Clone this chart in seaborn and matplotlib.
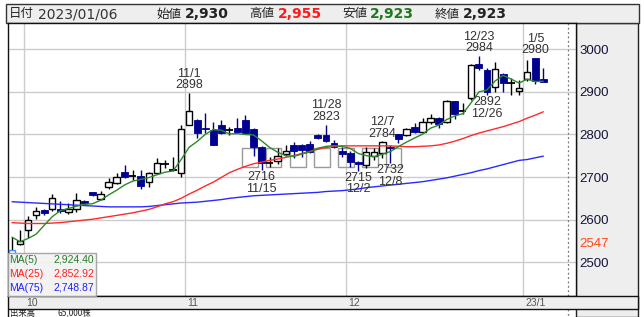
import numpy as np
import pandas as pd
import matplotlib
matplotlib.use("Agg")
import matplotlib.pyplot as plt
import seaborn as sns
from matplotlib.patches import Rectangle
from matplotlib.lines import Line2D

# ---------------- data ----------------
dates = pd.bdate_range("2022-09-29", "2023-01-06", freq="C",
                       holidays=["2022-10-10", "2022-11-03", "2022-11-23",
                                 "2023-01-02", "2023-01-03"])

opens = [2475, 2543, 2575, 2610, 2623, 2625, 2625, 2618, 2624, 2644,
         2664, 2648, 2676, 2685, 2712, 2702, 2702, 2688, 2709, 2731,
         2717, 2709, 2822, 2834, 2814, 2810, 2822, 2811, 2814, 2834,
         2812, 2771, 2734, 2738, 2754, 2775, 2775, 2777, 2799, 2799,
         2780, 2762, 2757, 2736, 2728, 2749, 2756, 2771, 2800, 2799,
         2818, 2806, 2828, 2838, 2828, 2878, 2854, 2885, 2964, 2951,
         2910, 2942, 2920, 2901, 2929, 2980, 2930]
highs = [2559, 2576, 2608, 2629, 2625, 2660, 2644, 2638, 2662, 2646,
         2665, 2668, 2697, 2709, 2728, 2716, 2716, 2712, 2744, 2740,
         2748, 2822, 2898, 2836, 2851, 2830, 2834, 2818, 2838, 2845,
         2814, 2773, 2748, 2767, 2775, 2783, 2777, 2785, 2800, 2823,
         2787, 2771, 2760, 2738, 2770, 2769, 2784, 2775, 2802, 2814,
         2826, 2838, 2847, 2840, 2880, 2879, 2873, 2965, 2984, 2955,
         2969, 2945, 2931, 2928, 2974, 2980, 2955]
lows = [2460, 2540, 2556, 2601, 2612, 2621, 2615, 2613, 2619, 2636,
        2656, 2646, 2673, 2684, 2697, 2693, 2672, 2677, 2706, 2720,
        2714, 2701, 2821, 2791, 2803, 2774, 2800, 2799, 2805, 2800,
        2749, 2716, 2724, 2730, 2750, 2744, 2748, 2756, 2788, 2782,
        2768, 2748, 2724, 2715, 2722, 2740, 2745, 2732, 2779, 2797,
        2803, 2804, 2825, 2814, 2826, 2836, 2847, 2880, 2950, 2892,
        2900, 2900, 2893, 2893, 2926, 2917, 2923]
closes = [2529, 2550, 2599, 2620, 2616, 2650, 2620, 2625, 2646, 2638,
          2658, 2660, 2688, 2701, 2701, 2702, 2680, 2709, 2734, 2731,
          2717, 2812, 2854, 2803, 2813, 2775, 2803, 2811, 2806, 2803,
          2770, 2734, 2734, 2749, 2762, 2762, 2763, 2759, 2791, 2784,
          2771, 2754, 2736, 2731, 2759, 2758, 2783, 2767, 2789, 2812,
          2806, 2828, 2838, 2824, 2878, 2848, 2854, 2963, 2955, 2900,
          2953, 2920, 2920, 2908, 2947, 2924, 2923]

ma5 = [2559, 2548, 2556, 2566, 2587, 2607.0, 2621.0, 2626.2, 2631.4, 2635.8,
       2637.4, 2645.4, 2658.0, 2669.0, 2681.6, 2690.4, 2694.4, 2698.6, 2705.2, 2711.2,
       2714.2, 2740.6, 2769.6, 2783.4, 2799.8, 2811.4, 2809.6, 2801.0, 2801.6, 2799.6,
       2798.6, 2784.8, 2769.4, 2758.0, 2749.8, 2748.2, 2754.0, 2759.0, 2767.4, 2771.8,
       2773.6, 2771.8, 2767.2, 2755.2, 2750.2, 2747.6, 2753.4, 2759.6, 2771.2, 2781.8,
       2791.4, 2800.4, 2814.6, 2821.6, 2834.8, 2843.2, 2848.4, 2873.4, 2899.6, 2904.0,
       2925.0, 2938.2, 2929.6, 2920.2, 2929.6, 2923.8, 2924.4]
ma25 = [2593, 2592, 2591, 2591, 2591, 2592, 2593, 2595, 2597, 2599,
        2601, 2604, 2607, 2610, 2613, 2616, 2620, 2624, 2630, 2637,
        2642, 2650, 2660, 2669, 2679, 2688, 2699, 2710, 2718, 2725,
        2731, 2735, 2739, 2742, 2746, 2750, 2755, 2760, 2765, 2769,
        2772, 2773, 2773, 2773, 2773, 2773, 2773, 2773, 2772, 2771,
        2771, 2772, 2773, 2775, 2779, 2784, 2790, 2797, 2803, 2808,
        2813, 2818, 2824, 2830, 2838, 2845, 2852.9]
ma75 = [2642, 2641, 2640, 2639, 2638, 2637, 2636, 2635, 2634, 2633,
        2632, 2631, 2630, 2630, 2630, 2630, 2630, 2631, 2633, 2635,
        2637, 2639, 2640, 2641, 2643, 2645, 2647, 2650, 2652, 2654,
        2656, 2657, 2658, 2659, 2660, 2661, 2662, 2663, 2664, 2666,
        2667, 2668, 2670, 2672, 2675, 2677, 2679, 2681, 2683, 2685,
        2687, 2689, 2692, 2695, 2698, 2702, 2706, 2710, 2715, 2719,
        2724, 2729, 2734, 2739, 2741, 2745, 2748.9]

ma_names = ["MA(5)", "MA(25)", "MA(75)"]
ma_last = [2924.40, 2852.92, 2748.87]

high_marks = [("11/1", 22), ("11/28", 39), ("12/7", 46), ("12/23", 58), ("1/5", 65)]
low_marks = [("11/15", 31), ("12/2", 43), ("12/8", 47), ("12/26", 59)]

month_labels = ["10", "11", "12", "23/1"]
month_first = ["2022-10-03", "2022-11-01", "2022-12-01", "2023-01-04"]

price_ticks = [2500, 2600, 2700, 2800, 2900, 3000]
marker_price = 2547

band_starts = [28.6, 31.55, 34.55, 37.55, 40.55, 43.5, 46.45]
band_low, band_high = 2723, 2769

header_date = "2023/01/06"
header_names = ["始値", "高値", "安値", "終値"]
header_vals = [2930, 2955, 2923, 2923]
volume_text = ("出来高", "65,000株")

# ---------------- style ----------------
sns.set_style("white")
plt.rcParams["font.family"] = ["Liberation Sans", "Noto Sans CJK JP", "DejaVu Sans"]

W, H = 644, 317
fig = plt.figure(figsize=(W / 100, H / 100), dpi=100)
fig.patch.set_facecolor("white")


def fx(x):
    return x / W


def fy(y):
    return 1 - y / H


# background panels (behind the axes)
fig.patches.append(Rectangle((fx(576), fy(317)), fx(637.5) - fx(576), fy(22.7) - fy(317),
                             transform=fig.transFigure, facecolor="#eeeeee",
                             edgecolor="#222222", lw=1, zorder=-2))
fig.patches.append(Rectangle((fx(5.5), fy(22.7)), fx(638.5) - fx(5.5), fy(4) - fy(22.7),
                             transform=fig.transFigure, facecolor="#eeeeee",
                             edgecolor="#333333", lw=1, zorder=-2))

ax = fig.add_axes([fx(8), fy(295.7), fx(576) - fx(8), fy(22.7) - fy(295.7)])
ax.set_facecolor("white")

df = pd.DataFrame({"date": dates, "open": opens, "high": highs, "low": lows,
                   "close": closes, "ma5": ma5, "ma25": ma25, "ma75": ma75})
df["pos"] = np.arange(len(df))

ax.set_xlim(-0.5, 70.06)
ax.set_ylim(2421.7, 3061.8)

# grid
grid_c = "#cccccc"
for p in price_ticks:
    ax.axhline(p, color=grid_c, lw=1, zorder=0)
month_pos = [df.index[df["date"] == pd.Timestamp(d)][0] - 0.5 for d in month_first]
for mp in month_pos:
    ax.axvline(mp, color=grid_c, lw=1, zorder=0)

# bands
for s in band_starts:
    ax.add_patch(Rectangle((s, band_low), 1.92, band_high - band_low, fill=False,
                           ec="#999999", lw=1, zorder=1))

navy = "#000090"
pos = df["pos"].values
o = df["open"].values
c = df["close"].values
hi = df["high"].values
lo = df["low"].values
up = c > o
dn = c < o
dj = c == o

# wicks
ax.vlines(pos[up | dj], lo[up | dj], hi[up | dj], color="black", lw=1, zorder=2)
ax.vlines(pos[dn], lo[dn], hi[dn], color=navy, lw=1, zorder=2)
# bodies
ax.bar(pos[up], (c - o)[up], bottom=o[up], width=0.8, color="white",
       edgecolor=["#3d8fff" if k == 0 else "black" for k in pos[up]], lw=1, zorder=3)
ax.bar(pos[dn], (o - c)[dn], bottom=c[dn], width=0.86, color=navy,
       edgecolor=navy, lw=0.6, zorder=3)
ax.hlines(o[dj], pos[dj] - 0.45, pos[dj] + 0.45, color="black", lw=1.3, zorder=3)

# moving averages
sns.lineplot(data=df, x="pos", y="ma75", color="#2a2aff", lw=1, ax=ax, zorder=4)
sns.lineplot(data=df, x="pos", y="ma25", color="#ff2a2a", lw=1, ax=ax, zorder=4)
sns.lineplot(data=df, x="pos", y="ma5", color="#2a8a2a", lw=1, ax=ax, zorder=4)

# annotations
for lbl, i in high_marks:
    ax.annotate(f"{lbl}\n{highs[i]}", xy=(i, highs[i]), xytext=(0, 1.5),
                textcoords="offset pixels", ha="center", va="bottom",
                fontsize=9, color="#333333", linespacing=0.95, zorder=6)
for lbl, i in low_marks:
    ax.annotate(f"{lows[i]}\n{lbl}", xy=(i, lows[i]), xytext=(0, -1),
                textcoords="offset pixels", ha="center", va="top",
                fontsize=9, color="#333333", linespacing=0.95, zorder=6)

# right axis labels
ax.yaxis.tick_right()
ax.set_yticks(price_ticks + [marker_price])
ax.set_yticklabels([str(p) for p in price_ticks] + [str(marker_price)], fontsize=9.5)
for t in ax.get_yticklabels():
    t.set_color("#ff4a1a" if t.get_text() == str(marker_price) else "#141438")
ax.tick_params(axis="y", length=0, pad=2.5)
ax.set_xticks([])
ax.set_xlabel("")
ax.set_ylabel("")
for sp in ax.spines.values():
    sp.set_visible(True)
    sp.set_color("#111111")
    sp.set_linewidth(1)

# dotted line
ax.axvline(69.1, color="#777777", lw=0.9, ls=(0, (1.5, 2)), zorder=1)

# month strip
fig.patches.append(Rectangle((fx(7.5), fy(309.3)), fx(637.5) - fx(7.5), fy(295.7) - fy(309.3),
                             transform=fig.transFigure, facecolor="#eeeeee",
                             edgecolor="#111111", lw=1, zorder=5))
for lbl, mp in zip(month_labels, month_pos):
    xpix = ax.transData.transform((mp, 0))[0]
    fig.text(fx(xpix + 2), fy(302.5), lbl, ha="left", va="center",
             fontsize=7.5, color="#555555", zorder=7)

# lower panel edges
fig.lines.append(Line2D([fx(7.8), fx(7.8)], [fy(309.3), fy(317)], transform=fig.transFigure,
                        color="#111111", lw=1))
xd = ax.transData.transform((69.1, 0))[0] / W
fig.lines.append(Line2D([xd, xd], [fy(309.3), fy(317)], transform=fig.transFigure,
                        color="#777777", lw=0.9, ls=(0, (1.5, 2))))
fig.text(fx(10), fy(313.2), volume_text[0], fontsize=6, color="#222222", ha="left", va="center",
         family=["Noto Sans CJK JP", "DejaVu Sans"])
fig.text(fx(58), fy(313.2), volume_text[1], fontsize=6, color="#222222", ha="left", va="center",
         family=["Noto Sans CJK JP", "DejaVu Sans"])

# legend box
fig.patches.append(Rectangle((fx(7.5), fy(295.7)), fx(95.7) - fx(7.5), fy(253.3) - fy(295.7),
                             transform=fig.transFigure, facecolor="#f2f2f2", alpha=0.92,
                             edgecolor="#a0a0a0", lw=1, zorder=8))
leg_cols = ["#2a7a2a", "#ff2020", "#2020ff"]
for k, (nm, v, col) in enumerate(zip(ma_names, ma_last, leg_cols)):
    yy = 260 + k * 13.8
    fig.text(fx(9), fy(yy), nm, fontsize=7.5, color=col, ha="left", va="center", zorder=9)
    fig.text(fx(94), fy(yy), f"{v:,.2f}", fontsize=7.5, color=col, ha="right", va="center",
             zorder=9)

# header
hy = fy(14)
fig.text(fx(9), hy, "日付", fontsize=9, color="#222222", va="center",
         family=["Noto Sans CJK JP", "DejaVu Sans"])
fig.text(fx(38), hy, header_date, fontsize=10, color="#333333", va="center",
         family="DejaVu Sans")
name_x = [156, 249, 342, 435]
val_x = [185, 278, 370, 463]
val_cols = ["#222222", "#ff1a1a", "#1a7a1a", "#222222"]
for nm, v, nx, vx, col in zip(header_names, header_vals, name_x, val_x, val_cols):
    fig.text(fx(nx), hy, nm, fontsize=9, color="#222222", va="center",
             family=["Noto Sans CJK JP", "DejaVu Sans"])
    fig.text(fx(vx), hy, f"{v:,}", fontsize=10, color=col, va="center",
             fontweight="bold", family="DejaVu Sans")

fig.savefig("out.png", dpi=100)
